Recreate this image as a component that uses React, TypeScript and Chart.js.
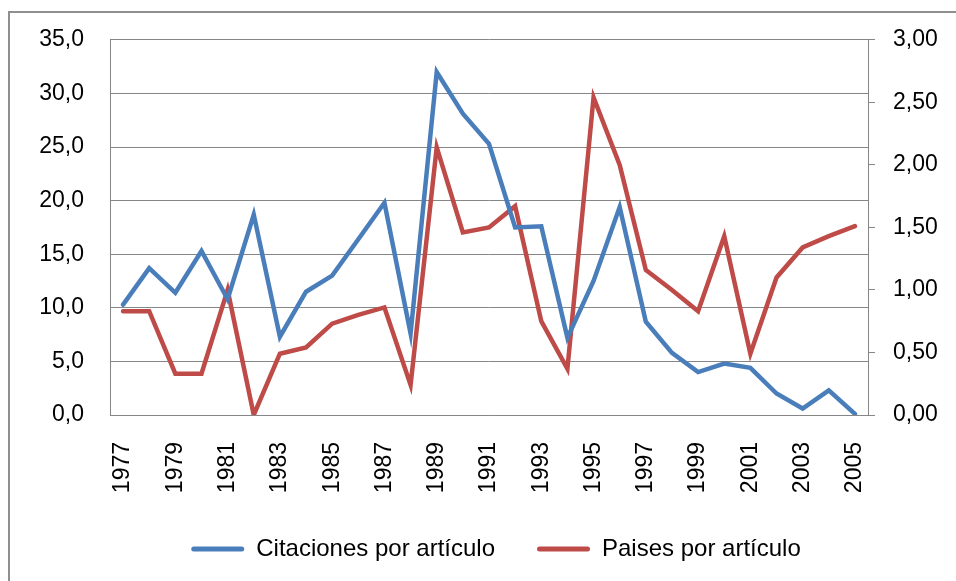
import React, { useEffect, useRef } from "react";
import { Chart, registerables } from "chart.js";

Chart.register(...registerables);

const years = [
  "1977", "1978", "1979", "1980", "1981", "1982", "1983", "1984", "1985", "1986",
  "1987", "1988", "1989", "1990", "1991", "1992", "1993", "1994", "1995", "1996",
  "1997", "1998", "1999", "2000", "2001", "2002", "2003", "2004", "2005",
];

const citaciones = [
  10.3, 13.7, 11.4, 15.3, 10.8, 18.7, 7.3, 11.5, 13.0, 16.4,
  19.8, 7.6, 32.0, 28.1, 25.3, 17.5, 17.6, 7.2, 12.5, 19.4,
  8.7, 5.8, 4.0, 4.8, 4.4, 2.0, 0.6, 2.3, 0.1,
];

const paises = [
  0.83, 0.83, 0.33, 0.33, 1.0, 0.0, 0.49, 0.54, 0.73, 0.8,
  0.86, 0.24, 2.14, 1.46, 1.5, 1.67, 0.75, 0.37, 2.54, 2.0,
  1.16, 1.0, 0.83, 1.43, 0.49, 1.1, 1.34, 1.43, 1.51,
];

const seriesNames = ["Citaciones por artículo", "Paises por artículo"];
const leftTicks = { min: 0, max: 35, step: 5 };
const rightTicks = { min: 0, max: 3, step: 0.5 };

const FONT = "'Liberation Sans', Arial, sans-serif";
const GRID = "#868686";

export default function App() {
  const ref = useRef<HTMLCanvasElement>(null);

  useEffect(() => {
    const chart = new Chart(ref.current!, {
      type: "line",
      data: {
        labels: years,
        datasets: [
          {
            label: seriesNames[0],
            data: citaciones,
            borderColor: "#4A7EBB",
            backgroundColor: "#4A7EBB",
            borderWidth: 4.5,
            pointRadius: 0,
            tension: 0,
            borderCapStyle: "round",
            yAxisID: "y",
          },
          {
            label: seriesNames[1],
            data: paises,
            borderColor: "#BE4B48",
            backgroundColor: "#BE4B48",
            borderWidth: 4.5,
            pointRadius: 0,
            tension: 0,
            borderCapStyle: "round",
            yAxisID: "y1",
          },
        ],
      },
      options: {
        responsive: false,
        animation: false,
        layout: { padding: { top: 36, bottom: 10, left: 36, right: 0 } },
        plugins: {
          tooltip: { enabled: false },
          legend: {
            position: "bottom",
            labels: {
              color: "#000",
              font: { family: FONT, size: 24 },
              boxWidth: 53,
              boxHeight: 5,
              padding: 42,
              useBorderRadius: true,
              borderRadius: 2.5,
              generateLabels: (c: any) =>
                Chart.defaults.plugins.legend.labels
                  .generateLabels(c)
                  .map((l: any) => ({ ...l, lineWidth: 0, fillStyle: l.strokeStyle })),
            },
          },
        },
        scales: {
          x: {
            type: "category",
            offset: true,
            afterFit: (s: any) => {
              s.height = 80;
            },
            grid: { display: false },
            border: { display: true, color: GRID },
            ticks: {
              autoSkip: false,
              maxRotation: 90,
              minRotation: 90,
              padding: 19,
              color: "#000",
              font: { family: FONT, size: 23 },
              callback: (_v: any, i: number) => (i % 2 === 0 ? years[i] : ""),
            },
          },
          y: {
            position: "left",
            min: leftTicks.min,
            max: leftTicks.max,
            afterFit: (s: any) => {
              s.width = 74;
            },
            grid: { color: GRID, lineWidth: 1, drawTicks: false },
            border: { display: true, color: GRID },
            ticks: {
              stepSize: leftTicks.step,
              padding: 26,
              color: "#000",
              font: { family: FONT, size: 23 },
              callback: (v: any) => Number(v).toFixed(1).replace(".", ","),
            },
          },
          y1: {
            position: "right",
            min: rightTicks.min,
            max: rightTicks.max,
            afterFit: (s: any) => {
              s.width = 88;
            },
            grid: { drawOnChartArea: false, drawTicks: true, tickLength: 7, color: GRID },
            border: { display: true, color: GRID },
            ticks: {
              stepSize: rightTicks.step,
              padding: 18,
              color: "#000",
              font: { family: FONT, size: 23 },
              callback: (v: any) => Number(v).toFixed(2).replace(".", ","),
            },
          },
        },
      },
    } as any);
    return () => chart.destroy();
  }, []);

  return (
    <div
      style={{
        position: "fixed",
        left: 0,
        top: 0,
        width: 956,
        height: 581,
        overflow: "hidden",
        background: "#fff",
      }}
    >
      <div
        style={{
          position: "absolute",
          left: 8,
          top: 11,
          width: 1100,
          height: 1000,
          border: "2px solid #8f8f8f",
          boxSizing: "border-box",
        }}
      />
      <canvas
        ref={ref}
        width={956}
        height={581}
        style={{ position: "absolute", left: 0, top: 0, width: 956, height: 581 }}
      />
    </div>
  );
}
